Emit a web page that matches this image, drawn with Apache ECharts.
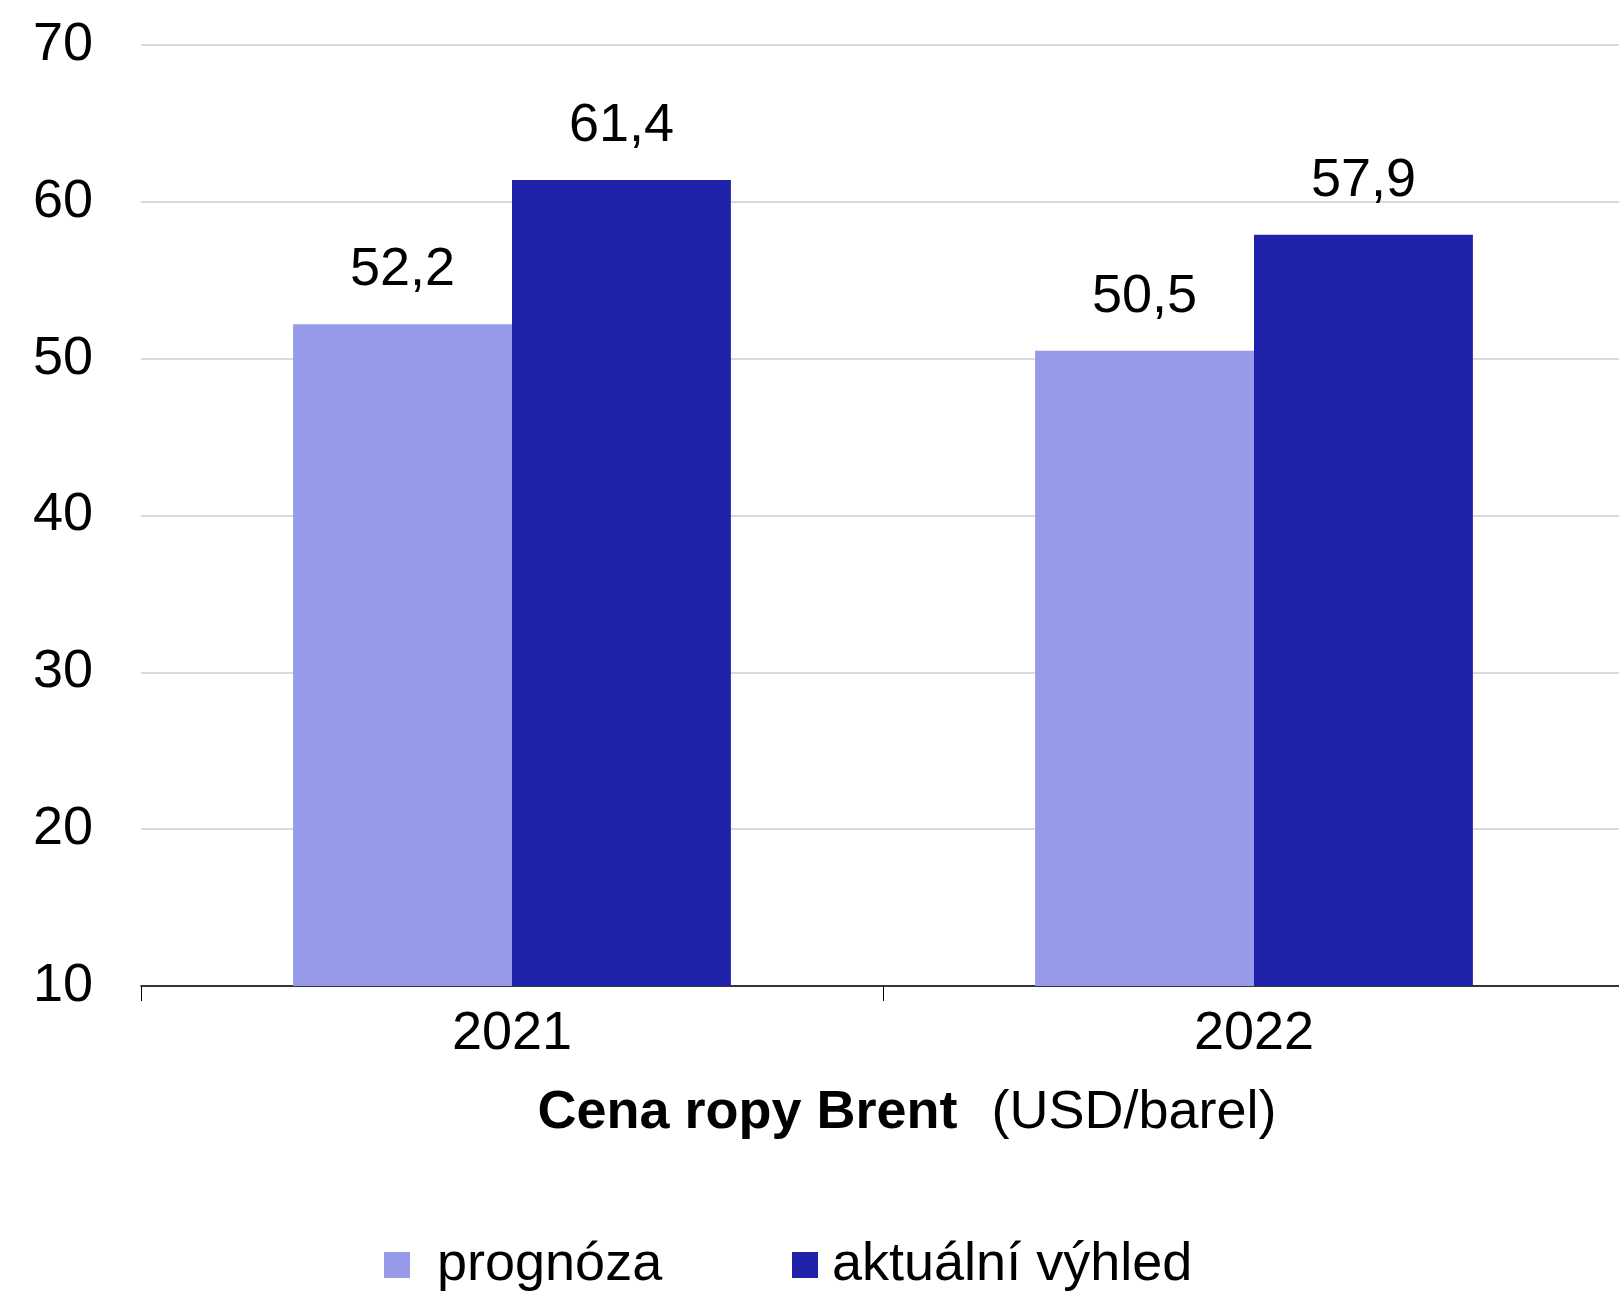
<!DOCTYPE html>
<html>
<head>
<meta charset="utf-8">
<script src="https://cdn.jsdelivr.net/npm/echarts@6/dist/echarts.min.js"></script>
<style>
  html, body { margin: 0; padding: 0; background: #fff; }
  #chart { width: 1619px; height: 1291px; }
</style>
</head>
<body>
<div id="chart"></div>
<script>
// cena ropy Brent, USD/barel
var years = ["2021", "2022"];
var prognoza = [52.2, 50.5];
var vyhled = [61.4, 57.9];
var seriesNames = ["prognóza", "aktuální výhled"];
var yTicks = [10, 20, 30, 40, 50, 60, 70];

var FONT = "Liberation Sans, Arial, sans-serif";
var FS = 54;
var colors = ["#9799E9", "#1F22A9"];

var myChart = echarts.init(document.getElementById("chart"));

function fmt(v) {
  return String(v.toFixed(1)).replace(".", ",");
}

var barLabel = {
  show: true,
  position: "top",
  distance: 27,
  fontSize: FS,
  color: "#000",
  fontFamily: FONT,
  formatter: function (p) { return fmt(p.value); }
};

myChart.setOption({
  animation: false,
  color: colors,
  textStyle: { fontFamily: FONT },
  grid: { left: 141, right: -6, top: 45, bottom: 305, outerBoundsMode: "none", containLabel: false },
  legend: [
    {
      data: [seriesNames[0]],
      left: 379,
      top: 1233,
      itemWidth: 26,
      itemHeight: 26,
      itemGap: 0,
      icon: "rect",
      textStyle: { fontSize: FS, color: "#000", fontFamily: FONT, padding: [0, 0, 0, 22] }
    },
    {
      data: [seriesNames[1]],
      left: 787,
      top: 1233,
      itemWidth: 26,
      itemHeight: 26,
      itemGap: 0,
      icon: "rect",
      textStyle: { fontSize: FS, color: "#000", fontFamily: FONT, padding: [0, 0, 0, 9] }
    }
  ],
  graphic: [
    {
      type: "text",
      x: 907,
      y: 1113,
      style: {
        text: "{b|Cena ropy Brent}{n|(USD/barel)}",
        fill: "#000",
        align: "center",
        verticalAlign: "middle",
        rich: {
          b: { fontSize: FS, fontWeight: "bold", fontFamily: FONT },
          n: { fontSize: FS, fontFamily: FONT, padding: [0, 0, 0, 34] }
        }
      }
    }
  ],
  xAxis: {
    type: "category",
    data: years,
    axisLine: { lineStyle: { color: "#000", width: 1.5 } },
    axisTick: { show: true, length: 15, lineStyle: { color: "#000", width: 1 } },
    axisLabel: { fontSize: FS, color: "#000", margin: 21, fontFamily: FONT }
  },
  yAxis: {
    type: "value",
    min: yTicks[0],
    max: yTicks[yTicks.length - 1],
    interval: 10,
    axisLine: { show: false },
    axisTick: { show: false },
    axisLabel: { fontSize: FS, color: "#000", margin: 48, fontFamily: FONT },
    splitLine: { lineStyle: { color: "#d9d9d9", width: 2 } }
  },
  series: [
    {
      name: seriesNames[0],
      type: "bar",
      data: prognoza,
      barGap: "0%",
      barCategoryGap: "41%",
      itemStyle: { color: colors[0] },
      label: barLabel
    },
    {
      name: seriesNames[1],
      type: "bar",
      data: vyhled,
      barGap: "0%",
      barCategoryGap: "41%",
      itemStyle: { color: colors[1] },
      label: barLabel
    }
  ]
});
</script>
</body>
</html>
